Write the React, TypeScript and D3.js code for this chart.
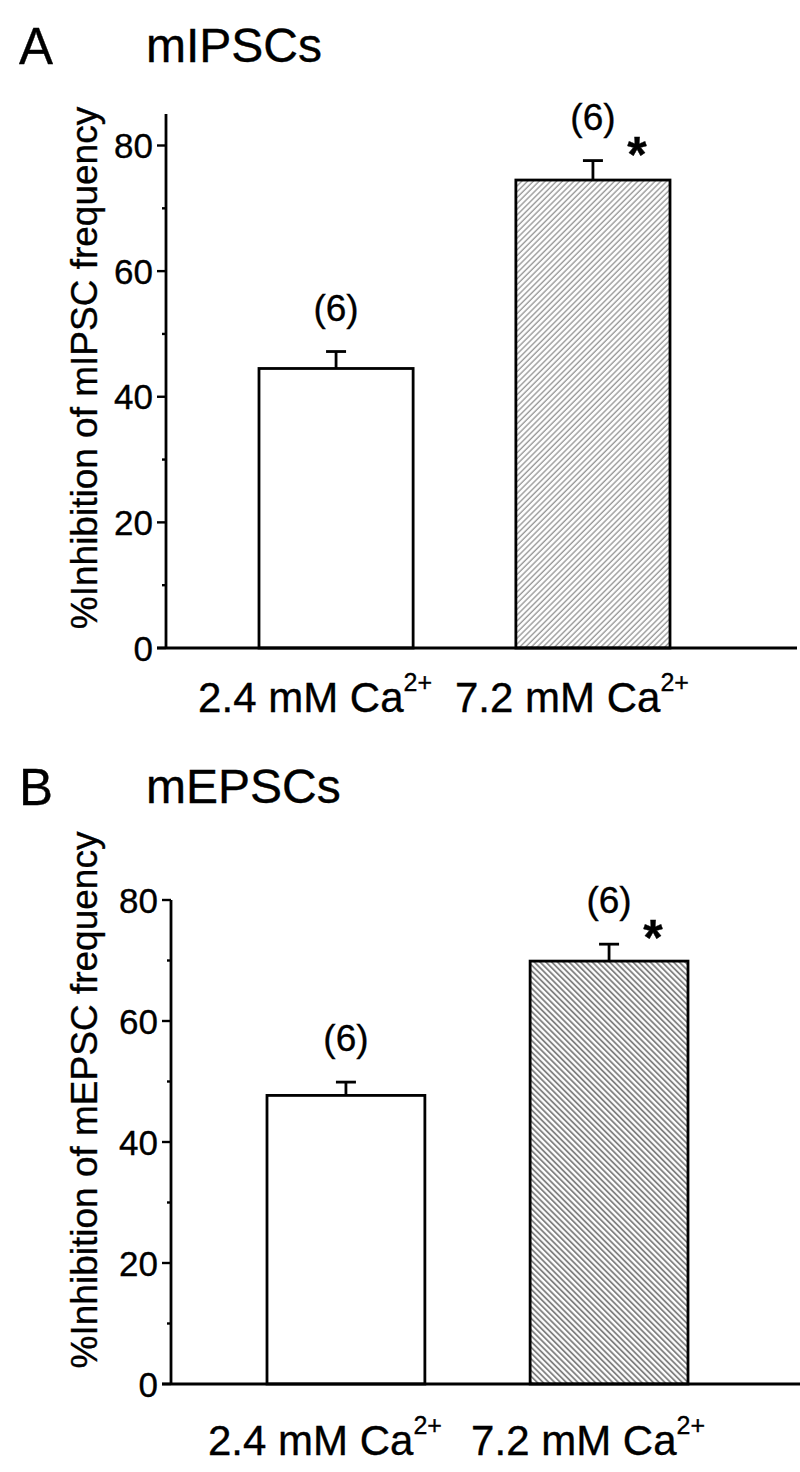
import React from 'react';
import * as d3 from 'd3';

const categories = ['2.4 mM Ca', '7.2 mM Ca'];
const superscripts = ['2+', '2+'];
const mipscMeans = [44.5, 74.5];
const mipscErrors = [2.7, 3.1];
const mepscMeans = [47.7, 69.9];
const mepscErrors = [2.2, 2.8];
const nLabels = ['(6)', '(6)'];
const significance = ['', '*'];
const yTicks = [0, 20, 40, 60, 80];
const yMinorTicks = [10, 30, 50, 70];

const FONT = '"Liberation Sans", Arial, Helvetica, sans-serif';

type PanelProps = {
  id: string;
  letter: string;
  title: string;
  yLabel: string;
  means: number[];
  errors: number[];
  axisX: number;
  y0: number;
  y80: number;
  axisTop: number;
  barStart: number;
  barEnd: number;
  xEnd: number;
  titleBaseline: number;
  labelBaseline: number;
  yLabelCenter: number;
  hatchAngle: number;
  hatchColor: string;
  hatchWidth: number;
};

const txt = { fontFamily: FONT, fill: '#000', stroke: '#000', strokeWidth: 0.35 };

function Panel(p: PanelProps) {
  const y = d3.scaleLinear().domain([0, 80]).range([p.y0, p.y80]);
  const x = d3.scaleBand<string>().domain(categories).range([p.barStart, p.barEnd]).paddingInner(0.4).paddingOuter(0);
  const bw = x.bandwidth();
  const patId = `hatch-${p.id}`;
  const sw = 2.8;
  return (
    <g>
      <defs>
        <pattern id={patId} patternUnits="userSpaceOnUse" width={4.1} height={4.1} patternTransform={`rotate(${p.hatchAngle})`}>
          <rect width={4.1} height={4.1} fill="#fff" />
          <line x1={1} y1={-1} x2={1} y2={6} stroke={p.hatchColor} strokeWidth={p.hatchWidth} />
        </pattern>
      </defs>
      <text x={19} y={p.titleBaseline} fontSize={51} {...txt}>{p.letter}</text>
      <text x={146} y={p.titleBaseline - 2} fontSize={48} {...txt}>{p.title}</text>
      <text transform={`translate(${97},${p.yLabelCenter}) rotate(-90)`} textAnchor="middle" fontSize={37} {...txt}>{p.yLabel}</text>
      {categories.map((c, i) => {
        const bx = x(c)!;
        const cx = bx + bw / 2;
        const top = y(p.means[i]);
        const errTop = y(p.means[i] + p.errors[i]);
        return (
          <g key={c}>
            <line x1={cx} x2={cx} y1={top} y2={errTop} stroke="#000" strokeWidth={sw} />
            <line x1={cx - 10} x2={cx + 10} y1={errTop} y2={errTop} stroke="#000" strokeWidth={sw} />
            <rect x={bx} y={top} width={bw} height={y(0) - top} fill={i === 0 ? '#fff' : `url(#${patId})`} stroke="#000" strokeWidth={sw} />
            <text x={cx} y={errTop - 31} textAnchor="middle" fontSize={37} {...txt}>{nLabels[i]}</text>
            {significance[i] && (
              <text x={cx + 44} y={errTop - 31 + 42} textAnchor="middle" fontSize={50} fontWeight="bold" {...txt}>{significance[i]}</text>
            )}
            <text x={cx - 21} y={p.labelBaseline} textAnchor="middle" fontSize={42} {...txt}>
              {c}
              <tspan dy={-21} fontSize={25}>{superscripts[i]}</tspan>
            </text>
          </g>
        );
      })}
      <line x1={p.axisX} x2={p.axisX} y1={y(0) + 1} y2={p.axisTop} stroke="#000" strokeWidth={sw} />
      <line x1={p.axisX - 9} x2={p.xEnd} y1={y(0)} y2={y(0)} stroke="#000" strokeWidth={sw} />
      {yTicks.map((t) => (
        <g key={t}>
          <line x1={p.axisX - 9} x2={p.axisX} y1={y(t)} y2={y(t)} stroke="#000" strokeWidth={2.4} />
          <text x={p.axisX - 13} y={y(t)} dy="0.36em" textAnchor="end" fontSize={35} {...txt}>{t}</text>
        </g>
      ))}
      {yMinorTicks.map((t) => (
        <line key={t} x1={p.axisX - 4} x2={p.axisX} y1={y(t)} y2={y(t)} stroke="#000" strokeWidth={2.4} />
      ))}
    </g>
  );
}

export default function App() {
  return (
    <svg width={800} height={1472} style={{ position: 'absolute', left: 0, top: 0, background: '#fff' }}>
      <rect width={800} height={1472} fill="#fff" />
      <Panel
        id="a" letter="A" title="mIPSCs" yLabel="%Inhibition of mIPSC frequency"
        means={mipscMeans} errors={mipscErrors}
        axisX={166} y0={648} y80={145.5} axisTop={114}
        barStart={259} barEnd={670} xEnd={797}
        titleBaseline={64} labelBaseline={712} yLabelCenter={368}
        hatchAngle={45} hatchColor="#9a9a9a" hatchWidth={1.4}
      />
      <Panel
        id="b" letter="B" title="mEPSCs" yLabel="%Inhibition of mEPSC frequency"
        means={mepscMeans} errors={mepscErrors}
        axisX={171} y0={1384} y80={900} axisTop={900}
        barStart={267} barEnd={688} xEnd={800}
        titleBaseline={805} labelBaseline={1455} yLabelCenter={1100}
        hatchAngle={-45} hatchColor="#777" hatchWidth={1.7}
      />
    </svg>
  );
}
